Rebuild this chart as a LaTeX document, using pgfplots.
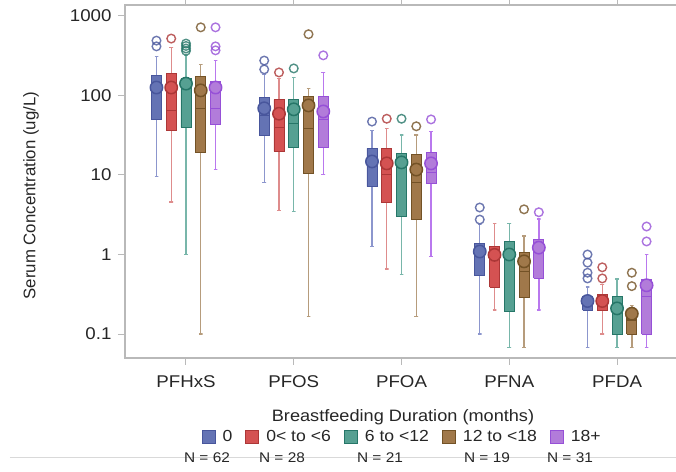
\documentclass[border=0pt]{standalone}
\usepackage{pgfplots}
\pgfplotsset{compat=1.18}
\usepackage{fontspec}
\setmainfont{Liberation Sans}[FakeStretch=1.1]
\newfontfamily\ylfont{Liberation Sans}

\definecolor{bluef}{RGB}{100,115,180}
\definecolor{blued}{RGB}{72,86,156}
\definecolor{bluew}{RGB}{140,150,205}
\definecolor{redf}{RGB}{212,82,82}
\definecolor{redd}{RGB}{172,55,55}
\definecolor{redw}{RGB}{222,140,140}
\definecolor{tealf}{RGB}{86,160,146}
\definecolor{teald}{RGB}{38,118,104}
\definecolor{tealw}{RGB}{120,182,170}
\definecolor{brownf}{RGB}{160,120,74}
\definecolor{brownd}{RGB}{115,82,38}
\definecolor{brownw}{RGB}{182,156,124}
\definecolor{purpf}{RGB}{178,124,218}
\definecolor{purpd}{RGB}{150,80,215}
\definecolor{purpw}{RGB}{185,120,238}
\definecolor{axgray}{RGB}{185,185,185}

% #1 pos, #2 lower whisker, #3 Q1, #4 median, #5 Q3, #6 upper whisker, #7 colour, #8 outliers, #9 mean
\newcommand{\bx}[9]{%
 \pgfmathsetmacro\xL{#1-0.0465}%
 \pgfmathsetmacro\xR{#1+0.0465}%
 \pgfmathsetmacro\cL{#1-0.017}%
 \pgfmathsetmacro\cR{#1+0.017}%
 \edef\tmp{%
 \noexpand\addplot[draw=#7w, line width=1.4pt, forget plot] coordinates {(\cL,#2)(\cR,#2)(#1,#2)(#1,#3)};
 \noexpand\addplot[draw=#7w, line width=1.4pt, forget plot] coordinates {(\cL,#6)(\cR,#6)(#1,#6)(#1,#5)};
 \noexpand\addplot[draw=#7d, fill=#7f, line width=0.9pt, line join=miter, forget plot] coordinates {(\xL,#3)(\xR,#3)(\xR,#5)(\xL,#5)(\xL,#3)};
 \noexpand\addplot[draw=#7d, line width=1.1pt, forget plot] coordinates {(\xL,#4)(\xR,#4)};
 }\tmp
 \addplot[only marks, mark=o, mark size=4.3pt, mark options={draw=#7d, line width=1.4pt, fill=none, draw opacity=0.8}, forget plot] coordinates {#8};
 \addplot[only marks, mark=*, mark size=6.2pt, mark options={fill=#7f, draw=#7d, line width=1.5pt}, forget plot] coordinates {(#1,#9)};
}

\pgfplotsset{sq/.style={legend image code/.code={\draw[##1, line width=1pt] (0pt,-6.5pt) rectangle (13pt,6.5pt);}}}

\begin{document}
\begin{tikzpicture}
\begin{axis}[
  at={(0pt,0pt)}, anchor=south west,
  scale only axis, width=565pt, height=353pt,
  xmin=0.434, xmax=5.677,
  ymode=log, ymin=0.0499, ymax=1375,
  xtick={1,2,3,4,5},
  xticklabels={PFHxS,PFOS,PFOA,PFNA,PFDA},
  ytick={0.1,1,10,100,1000},
  yticklabels={0.1,1,10,100,1000},
  minor tick num=0, yminorticks=false,
  tick align=outside, major tick length=7pt,
  tick style={draw=axgray, line width=1pt},
  axis line style={draw=axgray, line width=1.3pt},
  every tick label/.append style={font=\fontsize{17}{19}\selectfont, text=black!85},
  yticklabel style={xshift=-3pt},
  xticklabel style={font=\fontsize{17}{19}\selectfont, yshift=-7pt},
  /pgf/number format/assume math mode=true,
  ylabel={\ylfont Serum Concentration (ug/L)},
  ylabel style={at={(axis description cs:-0.1664,0.46)}, anchor=center, font=\fontsize{16.8}{18}\selectfont, text=black!85},
  legend style={at={(axis description cs:0.4905,-0.2238)}, anchor=center, draw=none, fill=none,
    legend columns=5, font=\fontsize{16}{18}\selectfont, text=black!85,
    /tikz/every odd column/.append style={column sep=5pt},
    /tikz/every even column/.append style={column sep=11pt}},
  clip=false,
]
% PFHxS
\bx{0.726}{9.6}{50}{110}{179}{310}{blue}{(0.726,490)(0.726,415)}{126}
\bx{0.863}{4.6}{36}{65}{189}{400}{red}{(0.863,520)}{126}
\bx{1.000}{1.0}{40}{130}{164}{320}{teal}{(1,450)(1,420)(1,390)(1,365)}{141}
\bx{1.137}{0.1}{19}{69}{174}{245}{brown}{(1.137,720)}{116}
\bx{1.274}{11.7}{43}{69}{150}{275}{purp}{(1.274,720)(1.274,415)(1.274,370)}{126}
% PFOS
\bx{1.726}{8.1}{31.5}{56}{94}{184}{blue}{(1.726,275)(1.726,213)}{69}
\bx{1.863}{3.6}{20}{40}{89}{164}{red}{(1.863,195)}{59}
\bx{2.000}{3.5}{22}{44}{89}{168}{teal}{(2,219)}{67}
\bx{2.137}{0.166}{10.4}{38}{97}{123}{brown}{(2.137,590)}{75}
\bx{2.274}{10.2}{22}{50}{97}{195}{purp}{(2.274,320)}{63}
% PFOA
\bx{2.726}{1.26}{7.2}{14}{21.6}{36}{blue}{(2.726,47)}{14.8}
\bx{2.863}{0.66}{4.5}{10.2}{21.6}{38.5}{red}{(2.863,51)}{14}
\bx{3.000}{0.56}{3.0}{14.4}{18.6}{32}{teal}{(3,51)}{14.4}
\bx{3.137}{0.166}{2.8}{8.1}{18}{32}{brown}{(3.137,41)}{11.7}
\bx{3.274}{0.94}{7.8}{10.7}{19}{35}{purp}{(3.274,50)}{14}
% PFNA
\bx{3.726}{0.1}{0.54}{1.0}{1.37}{2.4}{blue}{(3.726,3.9)(3.726,2.75)}{1.09}
\bx{3.863}{0.2}{0.39}{0.98}{1.26}{2.45}{red}{}{0.99}
\bx{4.000}{0.068}{0.19}{1.0}{1.46}{2.45}{teal}{}{1.0}
\bx{4.137}{0.068}{0.29}{0.61}{1.06}{1.7}{brown}{(4.137,3.7)}{0.82}
\bx{4.274}{0.2}{0.5}{1.19}{1.54}{2.8}{purp}{(4.274,3.4)}{1.22}
% PFDA
\bx{4.726}{0.068}{0.2}{0.25}{0.30}{0.39}{blue}{(4.726,1.0)(4.726,0.79)(4.726,0.59)(4.726,0.50)}{0.26}
\bx{4.863}{0.1}{0.2}{0.25}{0.31}{0.42}{red}{(4.863,0.69)(4.863,0.50)}{0.26}
\bx{5.000}{0.068}{0.1}{0.2}{0.30}{0.49}{teal}{}{0.21}
\bx{5.137}{0.068}{0.1}{0.15}{0.20}{0.23}{brown}{(5.137,0.59)(5.137,0.40)}{0.18}
\bx{5.274}{0.068}{0.1}{0.30}{0.49}{1.0}{purp}{(5.274,2.25)(5.274,1.46)}{0.41}
% legend
\addlegendimage{sq, draw=blued, fill=bluef}\addlegendentry{0}
\addlegendimage{sq, draw=redd, fill=redf}\addlegendentry{0< to <6}
\addlegendimage{sq, draw=teald, fill=tealf}\addlegendentry{6 to <12}
\addlegendimage{sq, draw=brownd, fill=brownf}\addlegendentry{12 to <18}
\addlegendimage{sq, draw=purpd, fill=purpf}\addlegendentry{18+}
\end{axis}
\node[font=\fontsize{16.5}{18}\selectfont, text=black!85] at (278pt,-59pt) {Breastfeeding Duration (months)};
\draw[black!15, line width=0.8pt] (-115pt,-99pt) -- (551pt,-99pt);
\begin{scope}[every node/.style={font=\fontsize{14}{16}\selectfont, text=black!85}]
\node at (82pt,-100pt) {N = 62};
\node at (157pt,-100pt) {N = 28};
\node at (255pt,-100pt) {N = 21};
\node at (362pt,-100pt) {N = 19};
\node at (445pt,-100pt) {N = 31};
\end{scope}
\pgfresetboundingbox
\path[use as bounding box] (-125pt,-113pt) rectangle (551pt,358pt);
\end{tikzpicture}
\end{document}
